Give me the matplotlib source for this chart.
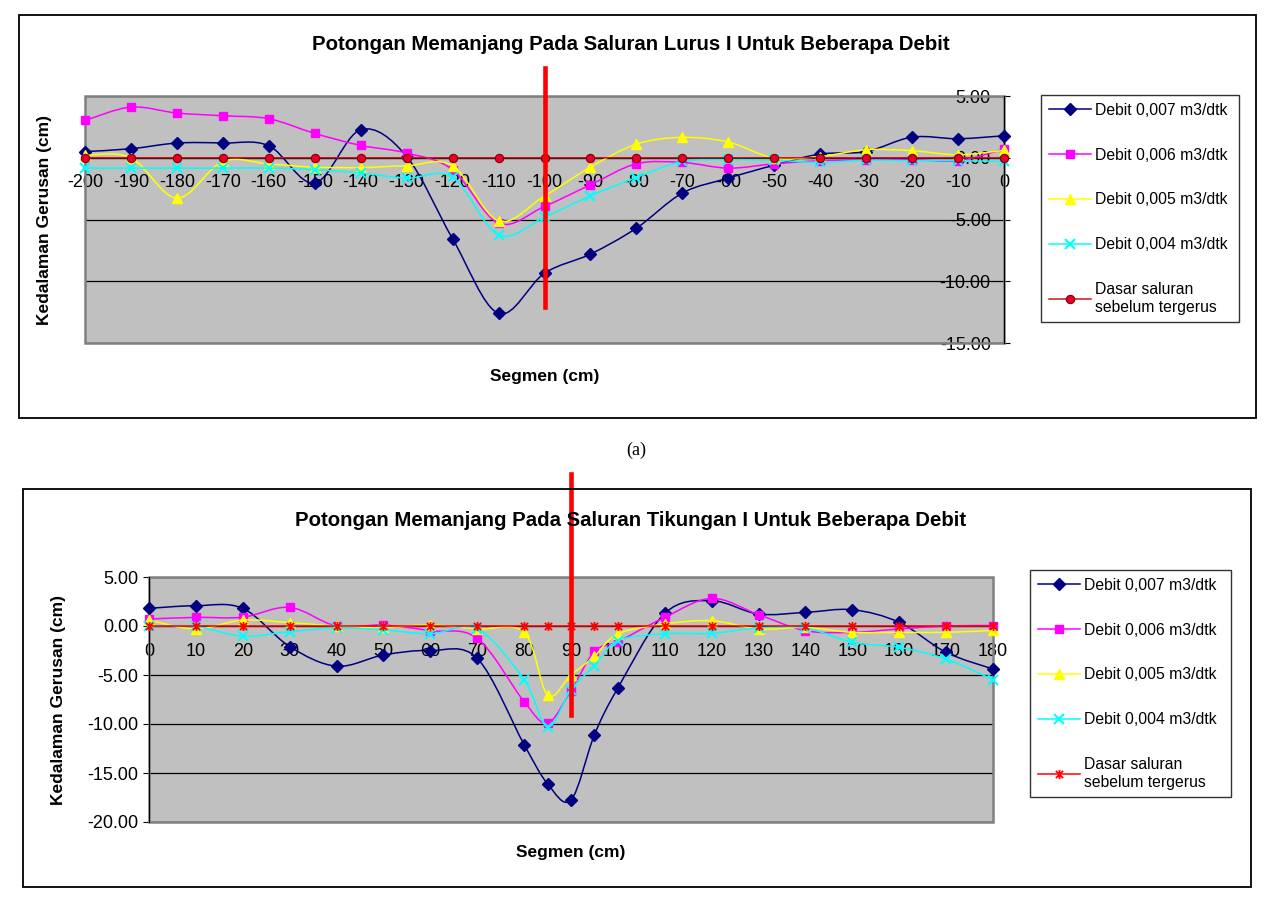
import numpy as np
import matplotlib
matplotlib.use('Agg')
import matplotlib.pyplot as plt
from matplotlib.path import Path
from matplotlib.patches import PathPatch, Rectangle
from matplotlib.lines import Line2D
from matplotlib.ticker import FormatStrFormatter

plt.rcParams['font.family'] = ['Liberation Sans', 'DejaVu Sans']
plt.rcParams['axes.unicode_minus'] = False

# ---- data: (a) saluran lurus ----
seg_lurus = [-200, -190, -180, -170, -160, -150, -140, -130, -120, -110, -100,
             -90, -80, -70, -60, -50, -40, -30, -20, -10, 0]
lurus_q007 = [0.5, 0.73, 1.19, 1.19, 0.97, -2.05, 2.27, 0.1, -6.56, -12.6, -9.35,
              -7.8, -5.7, -2.86, -1.65, -0.6, 0.3, 0.5, 1.67, 1.54, 1.78]
lurus_q006 = [3.02, 4.1, 3.62, 3.4, 3.16, 1.97, 1.0, 0.38, -0.97, -5.3, -3.94,
              -2.19, -0.49, -0.38, -0.84, -0.49, -0.24, -0.16, -0.16, -0.24, 0.7]
lurus_q005 = [0.2, 0.0, -3.27, -0.3, -0.5, -0.76, -0.8, -0.65, -0.65, -5.1, -3.1,
              -0.76, 1.1, 1.65, 1.27, -0.03, 0.1, 0.65, 0.57, 0.24, 0.6]
lurus_q004 = [-0.84, -0.84, -0.84, -0.84, -0.84, -0.97, -1.24, -1.65, -1.57, -6.24, -4.8,
              -3.08, -1.6, -0.3, -0.16, -0.2, -0.38, -0.2, -0.24, -0.24, -0.3]
lurus_dasar = [0.0] * len(seg_lurus)

# ---- data: (b) saluran tikungan ----
seg_tikungan = [0, 10, 20, 30, 40, 50, 60, 70, 80, 85, 90, 95, 100,
                110, 120, 130, 140, 150, 160, 170, 180]
tik_q007 = [1.8, 2.07, 1.8, -2.1, -4.1, -2.96, -2.5, -3.3, -12.1, -16.1, -17.76, -11.1, -6.33,
            1.29, 2.58, 1.22, 1.39, 1.66, 0.37, -2.69, -4.39]
tik_q006 = [0.71, 0.88, 0.9, 1.9, 0.0, 0.1, -0.48, -1.26, -7.72, -9.9, -6.6, -2.6, -1.6,
            0.88, 2.82, 1.16, -0.48, -0.65, -0.3, 0.0, 0.05]
tik_q005 = [0.6, -0.3, 0.6, 0.35, 0.0, -0.15, 0.1, -0.3, -0.65, -7.04, -5.0, -3.1, -0.8,
            0.2, 0.54, -0.3, -0.15, -0.65, -0.65, -0.65, -0.45]
tik_q004 = [0.0, -0.05, -1.05, -0.58, -0.2, -0.4, -0.8, -0.3, -5.48, -10.3, -6.5, -4.05, -1.5,
            -0.8, -0.75, -0.2, -0.2, -1.67, -2.18, -3.37, -5.48]
tik_dasar = [0.0] * len(seg_tikungan)

labels = ['Debit 0,007 m3/dtk', 'Debit 0,006 m3/dtk', 'Debit 0,005 m3/dtk',
          'Debit 0,004 m3/dtk', 'Dasar saluran\nsebelum tergerus']

# posisi garis merah (penanda) yang digambar manual di atas grafik
penanda_lurus = (-100, 7.3, -12.1)
penanda_tikungan = (90, 15.5, -9.1)

W, H = 1273, 906

# marker bintang ala excel (x + garis tegak)
star = Path([(-1, -1), (1, 1), (-1, 1), (1, -1), (0, -1.25), (0, 1.25)],
            [Path.MOVETO, Path.LINETO, Path.MOVETO, Path.LINETO, Path.MOVETO, Path.LINETO])


def smooth_path(x, y):
    # kurva bezier seperti "smoothed line" di excel
    pts = np.column_stack([x, y]).astype(float)
    n = len(pts)
    verts = [pts[0]]
    codes = [Path.MOVETO]
    for i in range(n - 1):
        p0 = pts[i - 1] if i > 0 else pts[i]
        p1 = pts[i]
        p2 = pts[i + 1]
        p3 = pts[i + 2] if i + 2 < n else pts[i + 1]
        verts += [p1 + (p2 - p0) / 6.0, p2 - (p3 - p1) / 6.0, p2]
        codes += [Path.CURVE4] * 3
    return Path(verts, codes)


def styles(dasar_marker):
    st = [
        dict(color='#000080', marker='D', ms=6, mfc='#000080', mec='#000080', mew=1),
        dict(color='#FF00FF', marker='s', ms=6, mfc='#FF00FF', mec='#FF00FF', mew=1),
        dict(color='#FFFF00', marker='^', ms=7, mfc='#FFFF00', mec='#FFFF00', mew=1),
        dict(color='#00FFFF', marker='x', ms=6.5, mfc='#00FFFF', mec='#00FFFF', mew=1.5),
    ]
    if dasar_marker == 'o':
        st.append(dict(color='#C81818', marker='o', ms=6, mfc='#E8002A', mec='#800000', mew=0.8))
    else:
        st.append(dict(color='#FF0000', marker=star, ms=6.5, mfc='none', mec='#FF0000', mew=1.3))
    return st


def draw_chart(ax, x, series, st):
    handles = []
    for yv, s in zip(series, st):
        ax.add_patch(PathPatch(smooth_path(x, yv), fill=False, edgecolor=s['color'],
                               lw=1.1, zorder=3))
        ax.plot(x, yv, ls='none', marker=s['marker'], ms=s['ms'], mfc=s['mfc'],
                mec=s['mec'], mew=s['mew'], zorder=3, clip_on=False)
        handles.append(Line2D([], [], color=s['color'], lw=1.1, marker=s['marker'],
                              ms=s['ms'], mfc=s['mfc'], mec=s['mec'], mew=s['mew']))
    return handles


def style_axes(ax, ylim, yticks):
    ax.set_facecolor('#C0C0C0')
    ax.set_ylim(*ylim)
    ax.set_yticks(yticks)
    ax.yaxis.set_major_formatter(FormatStrFormatter('%.2f'))
    ax.yaxis.grid(True, color='black', lw=0.9)
    ax.set_axisbelow(True)
    ax.spines['bottom'].set_position(('data', 0))
    ax.spines['top'].set_visible(False)
    ax.add_patch(Rectangle((0, 0), 1, 1, transform=ax.transAxes, fill=False,
                           edgecolor='#808080', lw=1.8, zorder=2.5, clip_on=False))
    ax.tick_params(axis='x', direction='out', length=3, width=0.8, pad=9, labelsize=13)
    ax.tick_params(axis='y', direction='out', length=4, width=0.8, labelsize=13)


fig = plt.figure(figsize=(W / 100, H / 100), dpi=100)

# bingkai luar kedua grafik
fig.patches.append(Rectangle((19 / W, 1 - 418 / H), 1237 / W, 403 / H, transform=fig.transFigure,
                             fill=False, edgecolor='black', lw=1.3))
fig.patches.append(Rectangle((23 / W, 1 - 887 / H), 1228 / W, 398 / H, transform=fig.transFigure,
                             fill=False, edgecolor='black', lw=1.3))

# ---------- (a) ----------
ax1 = fig.add_axes([85 / W, 1 - 343 / H, 919 / W, 247 / H])
st1 = styles('o')
h1 = draw_chart(ax1, seg_lurus, [lurus_q007, lurus_q006, lurus_q005, lurus_q004, lurus_dasar], st1)
ax1.set_xlim(-200, 0)
ax1.set_xticks(seg_lurus)
style_axes(ax1, (-15, 5), [5, 0, -5, -10, -15])
ax1.spines['left'].set_visible(False)
ax1.spines['right'].set_color('black')
ax1.yaxis.tick_right()
ax1.tick_params(axis='y', pad=-13.5)
for t in ax1.yaxis.get_major_ticks():
    t.label2.set_horizontalalignment('right')
x0, ya, yb = penanda_lurus
ax1.plot([x0, x0], [ya, yb], color='#FF0000', lw=3.3, zorder=5, clip_on=False)

fig.text(631 / W, 1 - 45 / H, 'Potongan Memanjang Pada Saluran Lurus I Untuk Beberapa Debit',
         ha='center', va='center', fontsize=14.7, fontweight='bold')
fig.text(545 / W, 1 - 376 / H, 'Segmen (cm)', ha='center', va='center',
         fontsize=12.5, fontweight='bold')
fig.text(45 / W, 1 - 220 / H, 'Kedalaman Gerusan (cm)', ha='center', va='center',
         rotation=90, fontsize=12.5, fontweight='bold')
leg1 = ax1.legend(h1, labels, loc='upper left', bbox_to_anchor=(1041 / W, 1 - 337 / H, 198 / W, 242 / H),
                  bbox_transform=fig.transFigure, mode='expand', borderaxespad=0,
                  fontsize=11.3, labelspacing=1.9, handlelength=2.7, handletextpad=0.25,
                  borderpad=0.5, fancybox=False, frameon=True)
leg1.get_frame().set_edgecolor('black')
leg1.get_frame().set_linewidth(1.0)

fig.text(636 / W, 1 - 450 / H, '(a)', ha='center', va='center', fontsize=13,
         family=['Liberation Serif', 'DejaVu Serif'])

# ---------- (b) ----------
ax2 = fig.add_axes([149 / W, 1 - 822 / H, 844 / W, 245 / H])
st2 = styles('*')
h2 = draw_chart(ax2, seg_tikungan, [tik_q007, tik_q006, tik_q005, tik_q004, tik_dasar], st2)
ax2.set_xlim(0, 180)
ax2.set_xticks(np.arange(0, 181, 10))
style_axes(ax2, (-20, 5), [5, 0, -5, -10, -15, -20])
ax2.spines['right'].set_visible(False)
ax2.spines['left'].set_color('black')
x0, ya, yb = penanda_tikungan
ax2.plot([x0, x0], [ya, yb], color='#FF0000', lw=3.3, zorder=5, clip_on=False)

fig.text(631 / W, 1 - 520 / H, 'Potongan Memanjang Pada Saluran Tikungan I Untuk Beberapa Debit',
         ha='center', va='center', fontsize=14.7, fontweight='bold')
fig.text(571 / W, 1 - 853 / H, 'Segmen (cm)', ha='center', va='center',
         fontsize=12.5, fontweight='bold')
fig.text(59 / W, 1 - 700 / H, 'Kedalaman Gerusan (cm)', ha='center', va='center',
         rotation=90, fontsize=12.5, fontweight='bold')
leg2 = ax2.legend(h2, labels, loc='upper left', bbox_to_anchor=(1030 / W, 1 - 815 / H, 201 / W, 245 / H),
                  bbox_transform=fig.transFigure, mode='expand', borderaxespad=0,
                  fontsize=11.3, labelspacing=1.9, handlelength=2.7, handletextpad=0.25,
                  borderpad=0.5, fancybox=False, frameon=True)
leg2.get_frame().set_edgecolor('black')
leg2.get_frame().set_linewidth(1.0)

fig.savefig('out.png', dpi=100, facecolor='white')
